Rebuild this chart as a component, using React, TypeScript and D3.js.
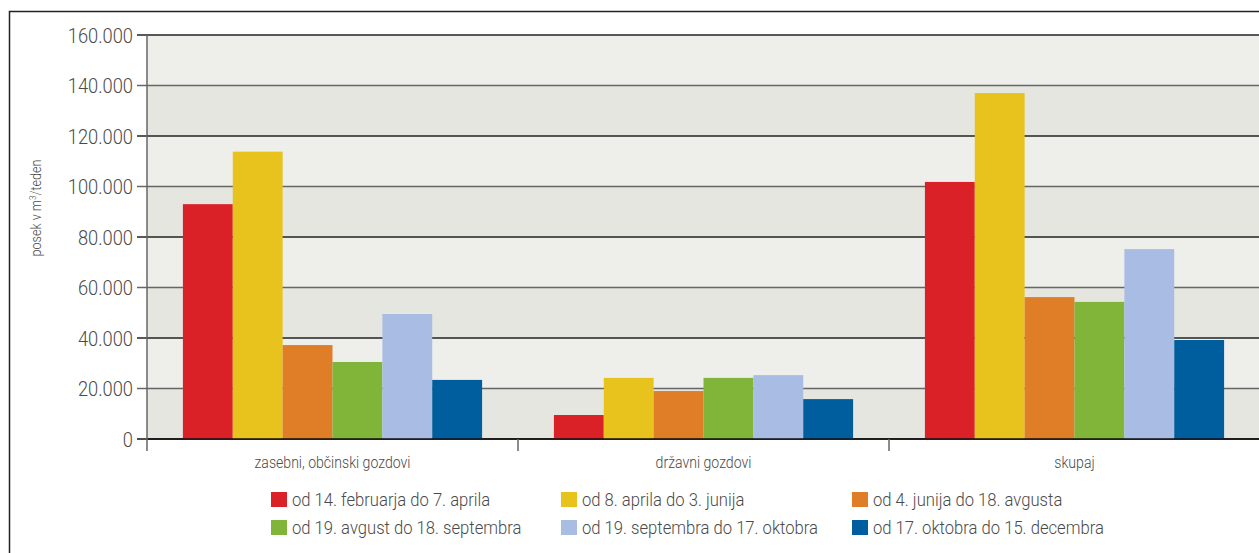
import React from "react";
import * as d3 from "d3";

const categories = ["zasebni, občinski gozdovi", "državni gozdovi", "skupaj"];
const seriesNames = [
  "od 14. februarja do 7. aprila",
  "od 8. aprila do 3. junija",
  "od 4. junija do 18. avgusta",
  "od 19. avgust do 18. septembra",
  "od 19. septembra do 17. oktobra",
  "od 17. oktobra do 15. decembra",
];
const seriesColors = ["#da2128", "#e8c31e", "#e07e27", "#80b53a", "#a9bde4", "#005e9e"];
// values per series, per category
const s1 = [93000, 9500, 101800];
const s2 = [113800, 24200, 137000];
const s3 = [37200, 19000, 56200];
const s4 = [30500, 24200, 54300];
const s5 = [49500, 25300, 75200];
const s6 = [23400, 15800, 39200];
const seriesValues = [s1, s2, s3, s4, s5, s6];
const yTicks = [0, 20000, 40000, 60000, 80000, 100000, 120000, 140000, 160000];

const W = 1259;
const H = 553;
const left = 147;
const right = 1260;
const top = 35;
const bottom = 439;

const fmt = (v: number) => (v === 0 ? "0" : d3.format(",")(v).replace(/,/g, "."));
const FONT = "Roboto, 'Liberation Sans', Arial, sans-serif";

function Txt(props: {
  x: number;
  y: number;
  sx: number;
  size: number;
  anchor?: string;
  rotate?: number;
  children: React.ReactNode;
}) {
  const { x, y, sx, size, anchor = "start", rotate = 0, children } = props;
  return (
    <text
      transform={`translate(${x},${y}) rotate(${rotate}) scale(${sx},1)`}
      textAnchor={anchor}
      dy="0.36em"
      fontFamily={FONT}
      fontWeight={300}
      fontSize={size}
      fill="#4a4a4a"
    >
      {children}
    </text>
  );
}

export default function App() {
  const y = d3.scaleLinear().domain([0, 160000]).range([bottom, top]);
  const x0 = d3.scaleBand().domain(categories).range([left, right]).paddingInner(0).paddingOuter(0);
  const x1 = d3
    .scaleBand()
    .domain(seriesNames)
    .range([0, x0.bandwidth()])
    .paddingOuter(0.72)
    .paddingInner(0);

  const bands = yTicks.slice(0, -1).map((t, i) => ({ y0: t, y1: yTicks[i + 1], dark: i % 2 === 0 }));

  const legendCols = [271, 561, 852];
  const legendRows = [492, 520];

  return (
    <svg width={W} height={H} style={{ position: "absolute", left: 0, top: 0, background: "#fff" }}>
      <rect x={9.5} y={11.5} width={W + 10} height={H + 10} fill="#fff" stroke="#222" strokeWidth={1.5} />
      {bands.map((b, i) => (
        <rect
          key={i}
          x={left}
          y={y(b.y1)}
          width={right - left}
          height={y(b.y0) - y(b.y1)}
          fill={b.dark ? "#e6e6e0" : "#eeeeea"}
        />
      ))}
      {yTicks.map((t, i) => (
        <g key={t}>
          <line
            x1={137}
            x2={right}
            y1={y(t)}
            y2={y(t)}
            stroke={t === 0 ? "#111" : i % 2 === 1 ? "#666" : "#222"}
            strokeWidth={1.7}
          />
          <Txt x={133} y={y(t)} sx={0.87} size={21} anchor="end">
            {fmt(t)}
          </Txt>
        </g>
      ))}
      {seriesValues.map((vals, si) =>
        vals.map((v, ci) => (
          <rect
            key={`${si}-${ci}`}
            x={(x0(categories[ci]) as number) + (x1(seriesNames[si]) as number)}
            y={y(v)}
            width={x1.bandwidth()}
            height={bottom - y(v)}
            fill={seriesColors[si]}
          />
        ))
      )}
      <line x1={left} x2={right} y1={bottom} y2={bottom} stroke="#111" strokeWidth={1.7} />
      <line x1={left} x2={left} y1={top} y2={451} stroke="#666" strokeWidth={1.5} />
      {categories.map((c, i) => {
        const cx = x0(c) as number;
        return (
          <g key={c}>
            {i > 0 && <line x1={cx} x2={cx} y1={bottom} y2={451} stroke="#666" strokeWidth={1.5} />}
            <Txt x={cx + x0.bandwidth() / 2} y={462} sx={0.88} size={16} anchor="middle">
              {c}
            </Txt>
          </g>
        );
      })}
      <text
        transform={`translate(36,208) rotate(-90) scale(0.9,1)`}
        textAnchor="middle"
        dy="0.36em"
        fontFamily={FONT}
        fontWeight={300}
        fontSize={14}
        fill="#4a4a4a"
      >
        posek v m
        <tspan fontSize={9} dy={-5}>
          3
        </tspan>
        <tspan dy={5}>/teden</tspan>
      </text>
      {seriesNames.map((n, i) => {
        const col = i % 3;
        const row = Math.floor(i / 3);
        const lx = legendCols[col];
        const ly = legendRows[row];
        return (
          <g key={n}>
            <rect x={lx} y={ly} width={16} height={15} fill={seriesColors[i]} />
            <Txt x={lx + 21} y={ly + 7.5} sx={0.9} size={18.5}>
              {n}
            </Txt>
          </g>
        );
      })}
    </svg>
  );
}
